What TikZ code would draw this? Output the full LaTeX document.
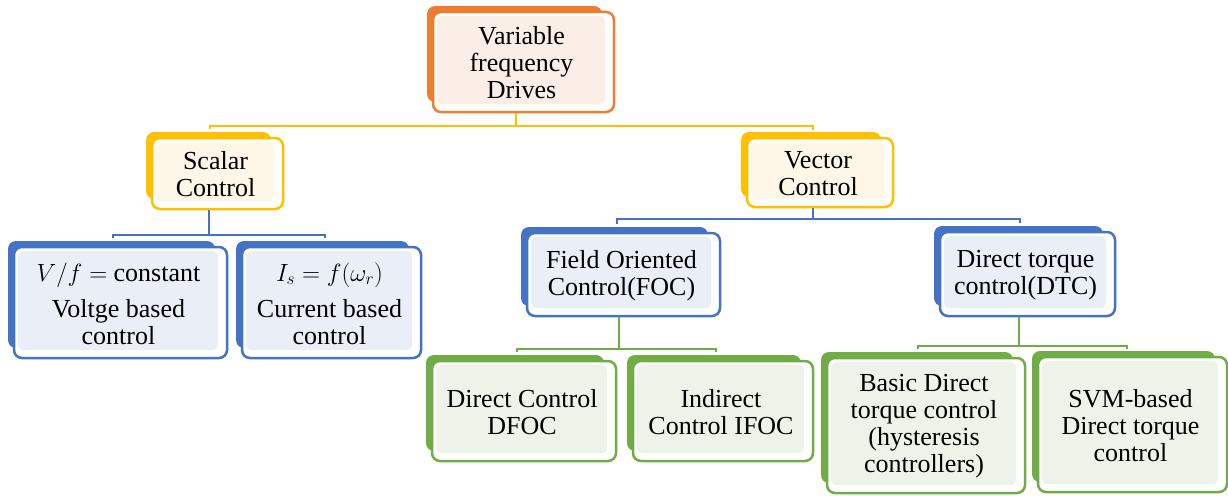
\documentclass[tikz,border=0pt]{standalone}
\usepackage{fontspec}
\setmainfont{Liberation Serif}
\newfontfamily\tnr{Liberation Serif}
\definecolor{cOr}{HTML}{ED7D31}
\definecolor{fOr}{HTML}{FBEEE6}
\definecolor{cYe}{HTML}{FFC000}
\definecolor{fYe}{HTML}{FEF6E6}
\definecolor{cBl}{HTML}{4472C4}
\definecolor{fBl}{HTML}{E9EEF7}
\definecolor{cGr}{HTML}{70AD47}
\definecolor{fGr}{HTML}{EEF3EA}
\tikzset{
  txt/.style={align=center, inner sep=0pt, font=\tnr\fontsize{26}{27}\selectfont, text=black},
  bus/.style={line width=2pt}
}
% name, x1, y1, x2, y2, colour, fill colour, text
\newcommand{\mybox}[8]{%
  \fill[#6, rounded corners=8pt] (#2-6,#3-6) rectangle (#4-12,#5-10);
  \draw[#6, line width=2.5pt, fill=white, rounded corners=8pt] (#2,#3) rectangle (#4,#5);
  \fill[#7, rounded corners=6pt] (#2+4,#3+4) rectangle (#4-9,#5-8);
  \node[txt, minimum width={(#4-#2)*1pt}, minimum height={(#5-#3)*1pt}] (#1) at ({(#2+#4)/2-2},{(#3+#5)/2+1}) {#8};
}
\begin{document}
\begin{tikzpicture}[x=1pt,y=-1pt]
\useasboundingbox (0,0) rectangle (1228,495);

\mybox{vfd}{433}{12}{614}{112}{cOr}{fOr}{Variable\\frequency\\Drives}
\mybox{sc}{152}{138}{283}{209}{cYe}{fYe}{Scalar\\Control}
\mybox{vc}{747}{138}{893}{207}{cYe}{fYe}{Vector\\Control}
\mybox{vf}{14}{247}{227}{358}{cBl}{fBl}{$V/f=$ constant\\[9pt]Voltge based\\control}
\mybox{is}{242}{247}{421}{358}{cBl}{fBl}{$I_s=f(\omega_r)$\\[9pt]Current based\\control}
\mybox{foc}{527}{233}{720}{316}{cBl}{fBl}{Field Oriented\\Control(FOC)}
\mybox{dtc}{940}{232}{1115}{316}{cBl}{fBl}{Direct torque\\control(DTC)}
\mybox{dfoc}{432}{361}{616}{461}{cGr}{fGr}{Direct Control\\DFOC}
\mybox{ifoc}{633}{361}{813}{461}{cGr}{fGr}{Indirect\\Control IFOC}
\mybox{bdtc}{827}{358}{1025}{493}{cGr}{fGr}{Basic Direct\\torque control\\(hysteresis\\controllers)}
\mybox{svm}{1038}{357}{1227}{492}{cGr}{fGr}{SVM-based\\Direct torque\\control}

% bus end points
\coordinate (t1) at (210,129);
\coordinate (t2) at (813,130);
\coordinate (s1) at (113,238);
\coordinate (s2) at (325,238);
\coordinate (v1) at (617,224);
\coordinate (v2) at (1020,223);
\coordinate (f1) at (517,352);
\coordinate (f2) at (716,352);
\coordinate (d1) at (918,349);
\coordinate (d2) at (1127,349);

% top bus
\draw[bus, cYe] ([xshift=-6pt]vfd.south) -- ++(0,13) coordinate (tm);
\draw[bus, cYe] (t1) |- (tm) -| (t2);
% scalar bus
\draw[bus, cBl] ([xshift=-7pt]sc.south) -- ++(0,25) coordinate (sm);
\draw[bus, cBl] (s1) |- (sm) -| (s2);
% vector bus
\draw[bus, cBl] ([xshift=-5pt]vc.south) -- ++(0,11) coordinate (vm);
\draw[bus, cBl] (v1) |- (vm) -| (v2);
% FOC bus
\draw[bus, cGr] ([xshift=-3pt]foc.south) -- ++(0,32) coordinate (fm);
\draw[bus, cGr] (f1) |- (fm) -| (f2);
% DTC bus
\draw[bus, cGr] ([xshift=-7pt]dtc.south) -- ++(0,29) coordinate (dm);
\draw[bus, cGr] (d1) |- (dm) -| (d2);
\end{tikzpicture}
\end{document}
